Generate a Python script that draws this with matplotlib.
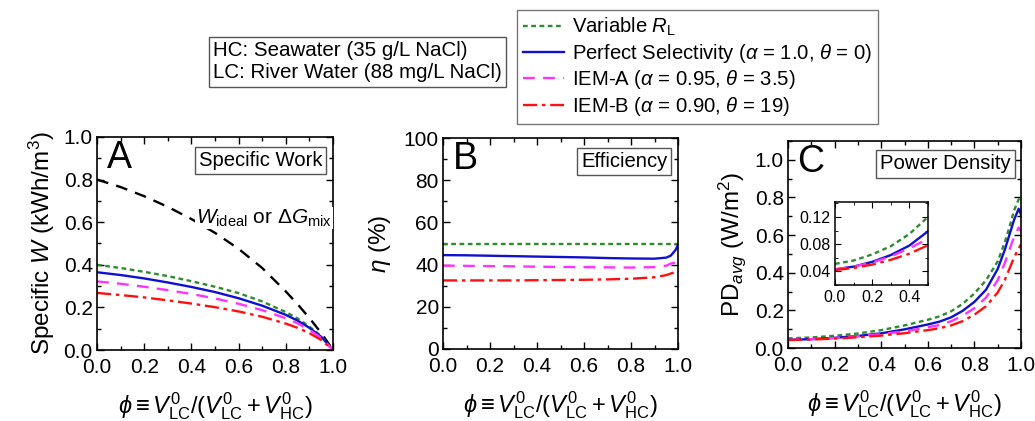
import numpy as np
import matplotlib
matplotlib.use('Agg')
import matplotlib.pyplot as plt
from matplotlib.ticker import MultipleLocator, FormatStrFormatter

plt.rcParams['font.family'] = ['Liberation Sans', 'DejaVu Sans']
plt.rcParams['mathtext.fontset'] = 'custom'
plt.rcParams['mathtext.rm'] = 'Liberation Sans'
plt.rcParams['mathtext.it'] = 'Liberation Sans:italic'
plt.rcParams['mathtext.bf'] = 'Liberation Sans:bold'

#-------------------------------------------------------------------------
# Data
# Panel A : specific work (kWh/m3)
phi_a = [0.0, 0.1, 0.2, 0.3, 0.4, 0.5, 0.6, 0.7, 0.8, 0.85, 0.9, 0.95, 1.0]
w_ideal = [0.80, 0.765, 0.722, 0.672, 0.615, 0.55, 0.475, 0.385, 0.275, 0.215, 0.15, 0.08, 0.0]
w_varRL = [0.40, 0.385, 0.367, 0.347, 0.323, 0.297, 0.267, 0.228, 0.178, 0.148, 0.11, 0.065, 0.0]
w_perf = [0.365, 0.352, 0.336, 0.317, 0.296, 0.272, 0.243, 0.208, 0.165, 0.138, 0.104, 0.062, 0.0]
w_iema = [0.322, 0.311, 0.297, 0.281, 0.263, 0.242, 0.217, 0.187, 0.149, 0.125, 0.095, 0.057, 0.0]
w_iemb = [0.268, 0.258, 0.247, 0.233, 0.218, 0.201, 0.181, 0.156, 0.124, 0.104, 0.079, 0.047, 0.0]

# Panel B : efficiency (%)
phi_b = [0.0, 0.1, 0.2, 0.3, 0.4, 0.5, 0.6, 0.7, 0.8, 0.9, 0.95, 0.97, 0.99, 1.0]
eta_varRL = [50, 50, 50, 50, 50, 50, 50, 50, 50, 50, 50, 50, 50, 50]
eta_perf = [44.5, 44.4, 44.2, 44.0, 43.8, 43.6, 43.4, 43.1, 42.9, 42.8, 43.3, 44.3, 47.0, 49.5]
eta_iema = [39.5, 39.4, 39.3, 39.2, 39.0, 38.9, 38.8, 38.7, 38.6, 38.8, 39.5, 40.5, 41.0, 39.8]
eta_iemb = [32.5, 32.5, 32.5, 32.5, 32.6, 32.7, 32.8, 33.0, 33.3, 34.0, 35.0, 35.8, 36.5, 37.0]

# Panel C : average power density (W/m2)
phi_c = [0.0, 0.1, 0.2, 0.3, 0.4, 0.5, 0.6, 0.65, 0.7, 0.75, 0.8, 0.85, 0.9, 0.93, 0.95, 0.97, 0.99, 1.0]
pd_varRL = [0.051, 0.056, 0.065, 0.077, 0.095, 0.12, 0.15, 0.168, 0.195, 0.235, 0.29, 0.36, 0.46, 0.56, 0.64, 0.73, 0.79, 0.80]
pd_perf = [0.043, 0.047, 0.054, 0.064, 0.078, 0.099, 0.125, 0.14, 0.163, 0.198, 0.245, 0.31, 0.42, 0.52, 0.60, 0.68, 0.74, 0.71]
pd_iema = [0.043, 0.047, 0.053, 0.062, 0.074, 0.088, 0.11, 0.122, 0.142, 0.172, 0.212, 0.268, 0.36, 0.45, 0.52, 0.59, 0.64, 0.62]
pd_iemb = [0.042, 0.045, 0.050, 0.057, 0.066, 0.0785, 0.095, 0.105, 0.12, 0.143, 0.177, 0.222, 0.295, 0.36, 0.42, 0.48, 0.53, 0.55]

labels = ['Variable $R_{\\mathrm{L}}$',
          'Perfect Selectivity ($\\alpha$ = 1.0, $\\theta$ = 0)',
          'IEM-A ($\\alpha$ = 0.95, $\\theta$ = 3.5)',
          'IEM-B ($\\alpha$ = 0.90, $\\theta$ = 19)']
#-------------------------------------------------------------------------
# line styles
c_green, c_blue, c_mag, c_red = '#2e8b2e', '#1010d0', '#ff33ff', '#ff1010'
sty = [dict(color=c_green, ls=(0, (2, 1.5)), lw=1.7),
       dict(color=c_blue, ls='-', lw=1.7),
       dict(color=c_mag, ls=(0, (5, 3.5)), lw=1.7),
       dict(color=c_red, ls=(0, (6, 2, 1.5, 2)), lw=1.7)]

xlab = '$\\phi \\equiv V_{\\mathrm{LC}}^{0}/(V_{\\mathrm{LC}}^{0}+V_{\\mathrm{HC}}^{0})$'

fig = plt.figure(figsize=(10.35, 4.21), dpi=100)
W, H = 1035.0, 421.0

def setup(ax, ymax, ymaj, ymin, fs=15):
    ax.set_xlim(0, 1.0)
    ax.set_ylim(0, ymax)
    ax.xaxis.set_major_locator(MultipleLocator(0.2))
    ax.xaxis.set_minor_locator(MultipleLocator(0.1))
    ax.yaxis.set_major_locator(MultipleLocator(ymaj))
    ax.yaxis.set_minor_locator(MultipleLocator(ymin))
    ax.xaxis.set_major_formatter(FormatStrFormatter('%.1f'))
    ax.tick_params(which='both', direction='in', top=True, right=True, labelsize=fs, width=1.0)
    ax.tick_params(which='major', length=5)
    ax.tick_params(which='minor', length=3)
    ax.tick_params(axis='x', pad=6)
    ax.tick_params(axis='y', pad=3)
    for s in ax.spines.values():
        s.set_linewidth(1.2)

def tag(ax, letter, title):
    ax.text(0.04, 0.985, letter, transform=ax.transAxes, fontsize=27, va='top', ha='left')
    ax.text(0.955, 0.935, title, transform=ax.transAxes, fontsize=14.6, va='top', ha='right',
            bbox=dict(boxstyle='square,pad=0.2', fc='white', ec='#555555', lw=1.0))

# Panel A
axA = fig.add_axes([97/W, 1-350/H, 236/W, 213/H])
axA.plot(phi_a, w_ideal, color='black', ls=(0, (5, 3.5)), lw=1.7)
axA.plot(phi_a, w_varRL, **sty[0])
axA.plot(phi_a, w_perf, **sty[1])
axA.plot(phi_a, w_iema, **sty[2])
axA.plot(phi_a, w_iemb, **sty[3])
setup(axA, 1.0, 0.2, 0.1)
axA.yaxis.set_major_formatter(FormatStrFormatter('%.1f'))
axA.set_ylabel('Specific $W$ (kWh/m$^3$)', fontsize=17.5, labelpad=5)
axA.set_xlabel(xlab, fontsize=17, labelpad=9)
tag(axA, 'A', 'Specific Work')
axA.text(0.42, 0.62, '$W_{\\mathrm{ideal}}$ or $\\Delta G_{\\mathrm{mix}}$', fontsize=15,
         va='center', ha='left', bbox=dict(fc='white', ec='none', pad=0.5))

# Panel B
axB = fig.add_axes([443/W, 1-349/H, 235/W, 211/H])
axB.plot(phi_b, eta_varRL, **sty[0])
axB.plot(phi_b, eta_perf, **sty[1])
axB.plot(phi_b, eta_iema, **sty[2])
axB.plot(phi_b, eta_iemb, **sty[3])
setup(axB, 100, 20, 10)
axB.set_ylabel('$\\eta$ (%)', fontsize=17.5, labelpad=8)
axB.set_xlabel(xlab, fontsize=17, labelpad=9)
tag(axB, 'B', 'Efficiency')

# Panel C
axC = fig.add_axes([788/W, 1-348/H, 233/W, 207/H])
hs = []
for y, s in zip([pd_varRL, pd_perf, pd_iema, pd_iemb], sty):
    hs.append(axC.plot(phi_c, y, **s)[0])
setup(axC, 1.1, 0.2, 0.1)
axC.yaxis.set_major_formatter(FormatStrFormatter('%.1f'))
axC.set_ylabel('PD$_{avg}$ (W/m$^2$)', fontsize=17.5, labelpad=5)
axC.set_xlabel(xlab, fontsize=17, labelpad=9)
tag(axC, 'C', 'Power Density')

# inset
axI = fig.add_axes([835/W, 1-285/H, 93/W, 83/H])
for y, s in zip([pd_varRL, pd_perf, pd_iema, pd_iemb], sty):
    axI.plot(phi_c, y, **s)
axI.set_xlim(0, 0.5)
axI.set_ylim(0.02, 0.142)
axI.xaxis.set_major_locator(MultipleLocator(0.2))
axI.xaxis.set_minor_locator(MultipleLocator(0.1))
axI.yaxis.set_major_locator(MultipleLocator(0.04))
axI.yaxis.set_minor_locator(MultipleLocator(0.02))
axI.xaxis.set_major_formatter(FormatStrFormatter('%.1f'))
axI.yaxis.set_major_formatter(FormatStrFormatter('%.2f'))
axI.tick_params(which='both', direction='in', top=True, right=True, labelsize=11.5)
axI.tick_params(which='major', length=4)
axI.tick_params(which='minor', length=2)
for s in axI.spines.values():
    s.set_linewidth(1.1)

# legends
fig.legend(hs, labels, loc='upper left', bbox_to_anchor=(517/W, 1-10/H), fontsize=14.6,
           frameon=True, fancybox=False, edgecolor='#555555', handlelength=2.0,
           handletextpad=0.4, labelspacing=0.17, borderpad=0.3, borderaxespad=0)
leg = fig.legends[0]
leg.get_frame().set_linewidth(1.0)

fig.text(213/W, 1-62/H, 'HC: Seawater (35 g/L NaCl)\nLC: River Water (88 mg/L NaCl)',
         fontsize=14.8, ha='left', va='center', linespacing=1.2,
         bbox=dict(boxstyle='square,pad=0.2', fc='white', ec='#555555', lw=1.0))

fig.savefig('out.png', dpi=100)
